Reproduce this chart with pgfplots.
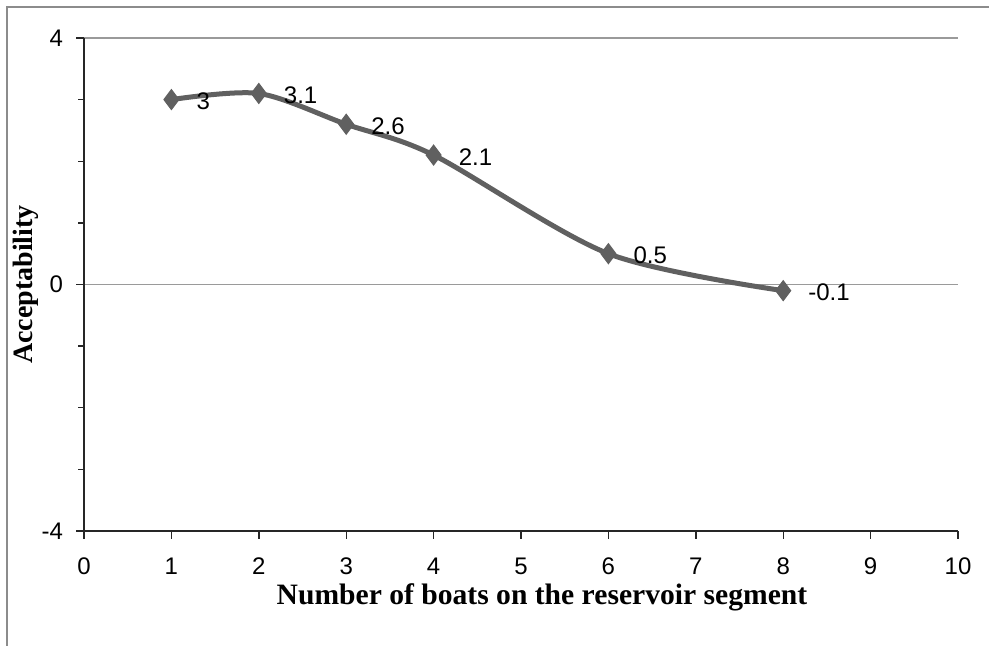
\documentclass[border=0pt]{standalone}
\usepackage{fontspec}
\setmainfont{Liberation Serif}
\newfontfamily\tahoma{Liberation Sans}
\usepackage{pgfplots}
\pgfplotsset{compat=1.18}
\definecolor{linegray}{HTML}{606060}
\definecolor{gridgray}{HTML}{9A9A9A}
\definecolor{framegray}{HTML}{8C8C8C}
\begin{document}
\begin{tikzpicture}
\useasboundingbox (0,0) rectangle (494.5pt,323pt);
\draw[framegray, line width=1pt] (3.5pt,0) -- (3.5pt,319.5pt) -- (494.5pt,319.5pt);
\begin{axis}[
  at={(42pt,57.5pt)}, anchor=south west,
  scale only axis, width=437pt, height=246.5pt,
  xmin=0, xmax=10, ymin=-4, ymax=4,
  axis x line*=bottom, axis y line*=left,
  axis line style={black!85, line width=0.7pt},
  xtick={0,1,...,10},
  ytick={-4,0,4},
  minor ytick={-3,-2,-1,1,2,3},
  tick align=outside,
  major tick length=4pt, minor tick length=3pt,
  tick style={black!85, line width=0.7pt},
  xtick pos=left, ytick pos=left,
  ymajorgrids,
  major grid style={gridgray, line width=0.8pt},
  /pgf/number format/assume math mode=true,
  ticklabel style={font=\tahoma\fontsize{12pt}{14pt}\selectfont},
  xticklabel style={yshift=-6pt},
  yticklabel style={xshift=-3pt},
  xlabel={Number of boats on the reservoir segment},
  ylabel={Acceptability},
  xlabel style={font=\bfseries\fontsize{14.8pt}{17pt}\selectfont, at={(axis description cs:0.524,-0.150)}, anchor=base},
  ylabel style={font=\bfseries\fontsize{14pt}{17pt}\selectfont, at={(axis description cs:-0.0584,0.5)}, anchor=base, rotate=0},
  clip=false,
  nodes near coords,
  point meta=explicit symbolic,
  every node near coord/.append style={anchor=west, xshift=9pt, yshift=-1pt, font=\tahoma\fontsize{12pt}{14pt}\selectfont, text=black},
]
\addplot[linegray, line width=2.5pt, smooth, tension=0.5, mark=diamond*, mark size=5pt, mark options={fill=linegray, draw=linegray, line width=0.5pt}]
  coordinates {(1,3) [3] (2,3.1) [3.1] (3,2.6) [2.6] (4,2.1) [2.1] (6,0.5) [0.5] (8,-0.1) [-0.1]};
\end{axis}
\end{tikzpicture}
\end{document}
